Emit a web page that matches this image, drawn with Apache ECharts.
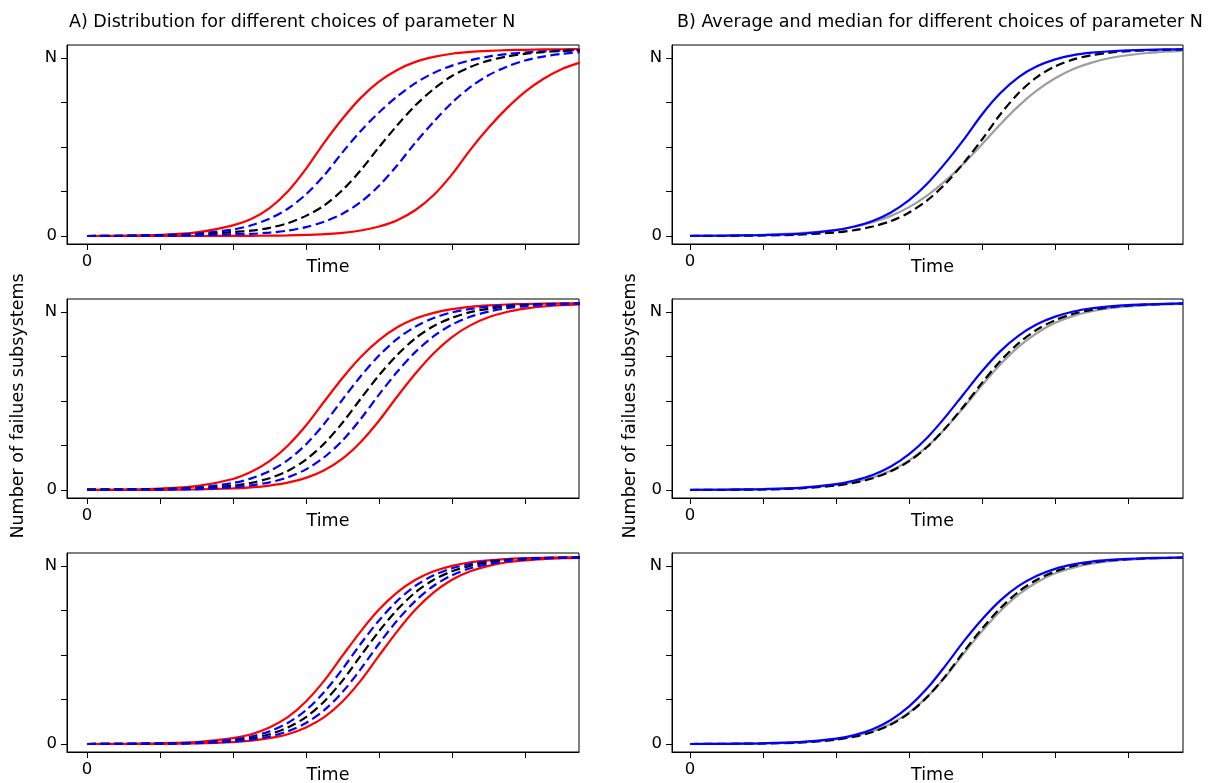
<!DOCTYPE html>
<html>
<head>
<meta charset="utf-8">
<script src="https://cdn.jsdelivr.net/npm/echarts@6/dist/echarts.min.js"></script>
<style>
html,body{margin:0;padding:0;background:#fff;}
#chart{width:1212px;height:783px;}
</style>
</head>
<body>
<div id="chart"></div>
<script>
// ---- data (time in tick units, values in units of N) ----
const timeGrid = [0,0.5,1,1.5,2,2.25,2.5,2.75,3,3.25,3.5,3.75,4,4.25,4.5,4.75,5,5.25,5.5,5.75,6,6.25,6.5,6.75];
const xTickValues = [0,1,2,3,4,5,6];
const xTickLabels = ['0'];
const yTickValues = [0,0.25,0.5,0.75,1];
const yTickLabels = {0:'0',1:'N'};

// Panel A, row 1
const a1RedEarly  = [0,0.002,0.006,0.02,0.06,0.095,0.156,0.25,0.377,0.525,0.659,0.776,0.867,0.933,0.978,1.006,1.024,1.034,1.04,1.044,1.046,1.048,1.049,1.05];
const a1BlueEarly = [0,0.002,0.005,0.013,0.036,0.06,0.097,0.153,0.234,0.341,0.47,0.59,0.694,0.784,0.859,0.916,0.957,0.987,1.008,1.022,1.031,1.037,1.042,1.045];
const a1Black     = [0,0.001,0.003,0.008,0.022,0.03,0.046,0.072,0.113,0.172,0.258,0.37,0.499,0.622,0.734,0.826,0.899,0.949,0.985,1.008,1.023,1.033,1.039,1.043];
const a1BlueLate  = [0,0,0.001,0.004,0.01,0.012,0.019,0.03,0.05,0.08,0.125,0.191,0.282,0.397,0.525,0.642,0.749,0.836,0.903,0.951,0.986,1.008,1.023,1.033];
const a1RedLate   = [0,0,0,0,0.001,0.001,0.002,0.003,0.006,0.01,0.018,0.031,0.053,0.089,0.146,0.23,0.346,0.484,0.608,0.717,0.81,0.882,0.937,0.974];
// Panel A, row 2
const a2RedEarly  = [0.001,0.003,0.008,0.022,0.062,0.102,0.162,0.249,0.362,0.497,0.629,0.747,0.842,0.914,0.963,0.995,1.016,1.029,1.037,1.042,1.045,1.047,1.048,1.049];
const a2BlueEarly = [0.001,0.002,0.005,0.014,0.039,0.065,0.106,0.168,0.256,0.372,0.508,0.639,0.755,0.849,0.918,0.966,0.998,1.017,1.03,1.037,1.042,1.045,1.047,1.048];
const a2Black     = [0.004,0.004,0.005,0.009,0.024,0.04,0.066,0.107,0.171,0.261,0.378,0.513,0.644,0.759,0.853,0.921,0.967,0.999,1.018,1.03,1.038,1.042,1.045,1.047];
const a2BlueLate  = [0,0.001,0.002,0.005,0.015,0.026,0.043,0.071,0.116,0.184,0.278,0.399,0.536,0.664,0.776,0.864,0.929,0.973,1.002,1.021,1.032,1.039,1.043,1.046];
const a2RedLate   = [0,0,0.001,0.003,0.009,0.015,0.025,0.041,0.068,0.111,0.176,0.27,0.389,0.525,0.654,0.768,0.859,0.925,0.97,1.0,1.019,1.031,1.038,1.043];
// Panel A, row 3
const a3RedEarly  = [0,0.001,0.004,0.011,0.033,0.055,0.093,0.151,0.239,0.356,0.496,0.633,0.755,0.852,0.923,0.97,1.001,1.021,1.032,1.039,1.044,1.046,1.048,1.049];
const a3BlueEarly = [0,0.001,0.003,0.008,0.025,0.042,0.071,0.118,0.19,0.292,0.421,0.563,0.694,0.804,0.889,0.948,0.987,1.011,1.027,1.036,1.042,1.045,1.047,1.048];
const a3Black     = [0,0.001,0.002,0.006,0.019,0.033,0.055,0.093,0.151,0.239,0.356,0.496,0.633,0.755,0.852,0.923,0.97,1.001,1.021,1.032,1.039,1.044,1.046,1.048];
const a3BlueLate  = [0,0.001,0.002,0.005,0.014,0.025,0.042,0.071,0.118,0.19,0.292,0.421,0.563,0.694,0.804,0.889,0.948,0.987,1.011,1.027,1.036,1.042,1.045,1.047];
const a3RedLate   = [0,0,0.001,0.004,0.011,0.019,0.033,0.055,0.093,0.151,0.239,0.356,0.496,0.633,0.755,0.852,0.923,0.97,1.001,1.021,1.032,1.039,1.044,1.046];
// Panel B (blue solid, black dashed, grey solid)
const b1Blue  = [0.001,0.002,0.005,0.012,0.033,0.053,0.084,0.132,0.201,0.295,0.412,0.543,0.684,0.803,0.893,0.953,0.992,1.016,1.03,1.038,1.043,1.046,1.048,1.049];
const b1Black = [0,0.001,0.003,0.008,0.02,0.033,0.053,0.084,0.132,0.201,0.295,0.412,0.543,0.684,0.803,0.893,0.953,0.992,1.016,1.03,1.038,1.043,1.046,1.048];
const b1Grey  = [0.001,0.003,0.007,0.016,0.035,0.052,0.077,0.113,0.162,0.228,0.311,0.408,0.516,0.628,0.731,0.818,0.886,0.938,0.974,1.0,1.016,1.028,1.035,1.04];
const b2Blue  = [0.001,0.002,0.005,0.012,0.033,0.053,0.084,0.132,0.201,0.295,0.412,0.541,0.668,0.78,0.867,0.931,0.974,1.003,1.021,1.032,1.039,1.043,1.046,1.048];
const b2Black = [0,0.001,0.003,0.009,0.025,0.041,0.066,0.105,0.162,0.243,0.349,0.472,0.603,0.725,0.825,0.901,0.954,0.99,1.012,1.027,1.036,1.041,1.045,1.047];
const b2Grey  = [0.001,0.002,0.004,0.011,0.028,0.045,0.07,0.109,0.166,0.245,0.347,0.465,0.589,0.706,0.805,0.882,0.939,0.978,1.004,1.021,1.031,1.038,1.043,1.046];
const b3Blue  = [0,0.001,0.004,0.011,0.03,0.05,0.083,0.135,0.211,0.314,0.442,0.578,0.701,0.807,0.888,0.945,0.984,1.009,1.025,1.034,1.04,1.044,1.046,1.048];
const b3Black = [0,0.001,0.003,0.008,0.024,0.041,0.067,0.109,0.173,0.265,0.383,0.52,0.649,0.763,0.856,0.923,0.969,1.0,1.019,1.031,1.038,1.043,1.045,1.047];
const b3Grey  = [0,0.001,0.004,0.01,0.027,0.045,0.072,0.114,0.177,0.266,0.379,0.509,0.634,0.747,0.84,0.909,0.959,0.991,1.013,1.027,1.035,1.041,1.044,1.046];

const titleA = 'A) Distribution for different choices of parameter N';
const titleB = 'B) Average and median for different choices of parameter N';
const xName = 'Time';
const yName = 'Number of failues subsystems';

// ---- layout ----
const FONT = 'DejaVu Sans';
const FS = 17.5;
const cols = [{left:67,width:512,xmin:-0.274,xmax:6.74,ylabX:18},{left:672,width:511,xmin:-0.247,xmax:6.75,ylabX:630}];
const rowTops = [45,299,553];
const H = 199;
const YMIN = -0.045, YMAX = 1.073;

const RED='#ff0000', BLUE='#0000ff', BLACK='#000000', GREY='#9e9e9e';
const panels = [
  {col:0,row:0,lines:[[a1RedEarly,RED,'solid'],[a1RedLate,RED,'solid'],[a1BlueEarly,BLUE,'dash'],[a1Black,BLACK,'dash'],[a1BlueLate,BLUE,'dash']]},
  {col:0,row:1,lines:[[a2RedEarly,RED,'solid'],[a2RedLate,RED,'solid'],[a2BlueEarly,BLUE,'dash'],[a2Black,BLACK,'dash'],[a2BlueLate,BLUE,'dash']]},
  {col:0,row:2,lines:[[a3RedEarly,RED,'solid'],[a3RedLate,RED,'solid'],[a3BlueEarly,BLUE,'dash'],[a3Black,BLACK,'dash'],[a3BlueLate,BLUE,'dash']]},
  {col:1,row:0,lines:[[b1Grey,GREY,'solid'],[b1Black,BLACK,'dash'],[b1Blue,BLUE,'solid']]},
  {col:1,row:1,lines:[[b2Grey,GREY,'solid'],[b2Black,BLACK,'dash'],[b2Blue,BLUE,'solid']]},
  {col:1,row:2,lines:[[b3Grey,GREY,'solid'],[b3Black,BLACK,'dash'],[b3Blue,BLUE,'solid']]}
];

const grid=[], xAxis=[], yAxis=[], series=[];
panels.forEach((p,i)=>{
  const c = cols[p.col];
  grid.push({left:c.left, top:rowTops[p.row], width:c.width, height:H, show:true, borderColor:'#000', borderWidth:1,
    backgroundColor:'transparent', containLabel:false, outerBoundsMode:'none'});
  xAxis.push({
    type:'value', gridIndex:i, min:c.xmin, max:c.xmax,
    name:xName, nameLocation:'middle', nameGap:14, nameMoveOverlap:false,
    nameTextStyle:{fontFamily:FONT,fontSize:FS,color:'#000',padding:[0,0,0,10]},
    axisLine:{show:true,onZero:false,lineStyle:{color:'#000',width:1}},
    axisTick:{show:true,inside:false,length:6,customValues:xTickValues,lineStyle:{color:'#000'}},
    axisLabel:{show:true,customValues:[0],formatter:v=>(v===0?xTickLabels[0]:''),fontFamily:FONT,fontSize:FS-1,color:'#000',margin:9},
    splitLine:{show:false}
  });
  yAxis.push({
    type:'value', gridIndex:i, min:YMIN, max:YMAX,
    axisLine:{show:true,onZero:false,lineStyle:{color:'#000',width:1}},
    axisTick:{show:true,inside:false,length:6,customValues:yTickValues,lineStyle:{color:'#000'}},
    axisLabel:{show:true,customValues:[0,1],formatter:v=>(yTickLabels[v]!==undefined?yTickLabels[v]:''),fontFamily:FONT,fontSize:FS-1,color:'#000',margin:10},
    splitLine:{show:false}
  });
  p.lines.forEach(([arr,color,style])=>{
    series.push({
      type:'line', xAxisIndex:i, yAxisIndex:i,
      data: timeGrid.map((t,k)=>[t,arr[k]]),
      showSymbol:false, symbol:'none', smooth:0.3,
      lineStyle:{color:color,width:2.2,type: style==='dash'?[9,4.5]:'solid'},
      silent:true, animation:false, clip:true
    });
  });
});

const graphic = cols.map(c=>({
  type:'text', x:c.ylabX, y:406, rotation:Math.PI/2,
  style:{text:yName, fontFamily:FONT, fontSize:FS, fill:'#000', align:'center', verticalAlign:'middle'}
}));

const chart = echarts.init(document.getElementById('chart'), null, {renderer:'canvas'});
chart.setOption({
  animation:false,
  backgroundColor:'#fff',
  title:[
    {text:titleA,left:64,top:8,textStyle:{fontFamily:FONT,fontSize:FS,fontWeight:'normal',color:'#000'}},
    {text:titleB,left:672,top:8,textStyle:{fontFamily:FONT,fontSize:FS,fontWeight:'normal',color:'#000'}}
  ],
  graphic, grid, xAxis, yAxis, series
});
</script>
</body>
</html>
